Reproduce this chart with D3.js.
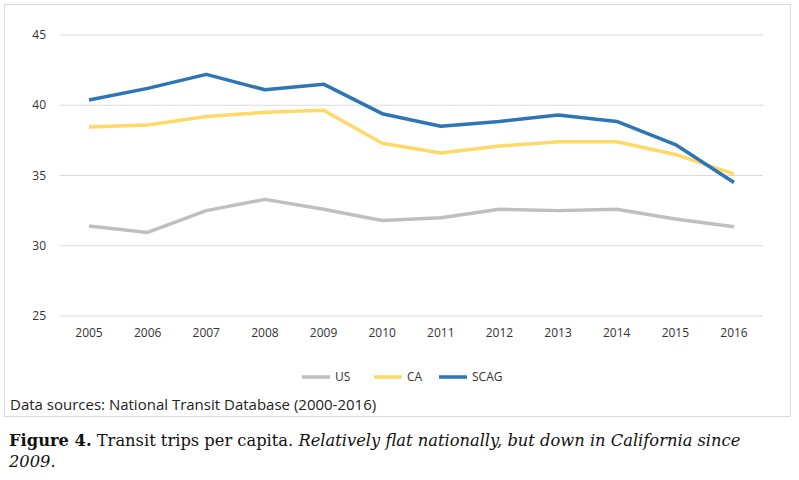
<!DOCTYPE html>
<html><head><meta charset="utf-8">
<script src="https://cdn.jsdelivr.net/npm/d3@7"></script>
<style>body{margin:0;background:#fff;}</style>
</head><body>
<svg id="c" width="799" height="480"></svg>
<script>
var years = [2005,2006,2007,2008,2009,2010,2011,2012,2013,2014,2015,2016];
var us   = [31.4,30.95,32.5,33.3,32.6,31.8,32.0,32.6,32.5,32.6,31.9,31.35];
var ca   = [38.45,38.6,39.2,39.5,39.65,37.3,36.6,37.1,37.4,37.4,36.5,35.1];
var scag = [40.37,41.2,42.2,41.1,41.5,39.4,38.5,38.85,39.3,38.85,37.2,34.5];
var yTicks = [25,30,35,40,45];
var series = [
  {name:'US', values:us, color:'#bfbfbf'},
  {name:'CA', values:ca, color:'#ffd966'},
  {name:'SCAG', values:scag, color:'#2e75b6'}
];

var svg = d3.select('#c');
var x = d3.scalePoint().domain(years).range([89,734]);
var y = d3.scaleLinear().domain([25,45]).range([316,35]);

svg.append('rect').attr('x',4.5).attr('y',4.5).attr('width',786).attr('height',412)
  .attr('fill','none').attr('stroke','#d9d9d9');

svg.selectAll('.grid').data(yTicks).enter().append('line')
  .attr('x1',60).attr('x2',763).attr('y1',function(d){return y(d);}).attr('y2',function(d){return y(d);})
  .attr('stroke','#d9d9d9');

svg.selectAll('.yl').data(yTicks).enter().append('text')
  .attr('x',46).attr('y',function(d){return y(d)+4;}).attr('text-anchor','end')
  .style('font','12px "Open Sans"').attr('fill','#333').text(function(d){return d;});

svg.selectAll('.xl').data(years).enter().append('text')
  .attr('x',function(d){return x(d);}).attr('y',337).attr('text-anchor','middle')
  .style('font','12px "Open Sans"').attr('fill','#333').text(function(d){return d;});

var line = d3.line().x(function(d,i){return x(years[i]);}).y(function(d){return y(d);});
series.forEach(function(s){
  svg.append('path').attr('d',line(s.values)).attr('fill','none')
    .attr('stroke',s.color).attr('stroke-width',3.5).attr('stroke-linejoin','round');
});

var lx = [302,374,439];
series.forEach(function(s,i){
  svg.append('line').attr('x1',lx[i]).attr('x2',lx[i]+28).attr('y1',377).attr('y2',377)
    .attr('stroke',s.color).attr('stroke-width',3.5);
  svg.append('text').attr('x',lx[i]+33).attr('y',381).style('font','12px "Open Sans"')
    .attr('fill','#333').text(s.name);
});

svg.append('text').attr('x',10).attr('y',410).style('font','15px "Open Sans"').attr('fill','#222')
  .text('Data sources: National Transit Database (2000-2016)');

var cap = svg.append('text').attr('x',9).attr('y',446).style('font','16.3px "DejaVu Serif"').attr('fill','#111');
cap.append('tspan').style('font-weight','bold').text('Figure 4.');
cap.append('tspan').text(' Transit trips per capita. ');
cap.append('tspan').style('font-style','italic').text('Relatively flat nationally, but down in California since');
svg.append('text').attr('x',9).attr('y',467).style('font','italic 16.3px "DejaVu Serif"').attr('fill','#111').text('2009.');
</script>
</body></html>
